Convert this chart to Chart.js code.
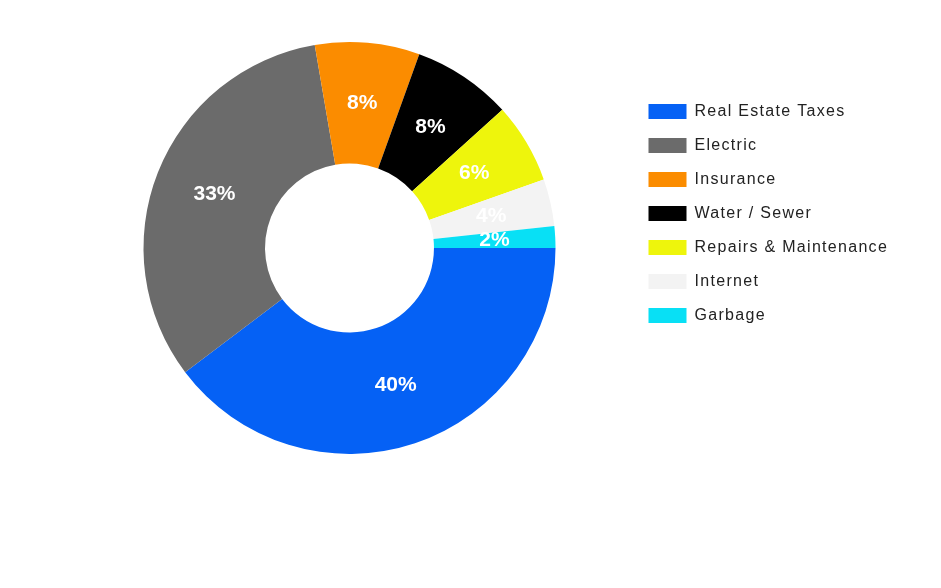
<!DOCTYPE html>
<html>
<head>
<meta charset="utf-8">
<script src="https://cdn.jsdelivr.net/npm/chart.js@4/dist/chart.umd.min.js"></script>
<style>
  html, body { margin: 0; padding: 0; background: #ffffff; }
  #wrap { width: 941px; height: 588px; }
</style>
</head>
<body>
<div id="wrap"><canvas id="c" width="941" height="588"></canvas></div>
<script>
const categories = ["Real Estate Taxes", "Electric", "Insurance", "Water / Sewer", "Repairs & Maintenance", "Internet", "Garbage"];
const shares = [39.7, 32.6, 8.2, 7.8, 6.3, 3.7, 1.7];
const sliceColors = ["#0561f5", "#6b6b6b", "#fb8c00", "#000000", "#eef50c", "#f3f3f3", "#08e0f5"];

const LEGEND_FONT = "16px 'Liberation Sans', Arial, sans-serif";
const LETTER_SPACING = '1.3px';

// measure legend text so the legend's left edge lands where the reference has it
const mctx = document.createElement('canvas').getContext('2d');
mctx.font = LEGEND_FONT;
mctx.letterSpacing = LETTER_SPACING;
const maxTextW = Math.max(...categories.map(t => mctx.measureText(t).width));
const legendW = 18 + 38 + 8 + maxTextW + 10;
const legendLeft = 630.5;
const padRight = Math.max(941 - legendLeft - legendW, 0);

const spacingPlugin = {
  id: 'legendSpacing',
  beforeUpdate(chart) { chart.ctx.letterSpacing = LETTER_SPACING; },
  beforeDraw(chart) { chart.ctx.letterSpacing = LETTER_SPACING; }
};

const pctLabels = {
  id: 'pctLabels',
  afterDatasetsDraw(chart) {
    const ctx = chart.ctx;
    const meta = chart.getDatasetMeta(0);
    const data = chart.data.datasets[0].data;
    const total = data.reduce((a, b) => a + b, 0);
    ctx.save();
    ctx.letterSpacing = '0px';
    ctx.font = "bold 21px 'Liberation Sans', Arial, sans-serif";
    ctx.fillStyle = '#ffffff';
    ctx.textAlign = 'center';
    ctx.textBaseline = 'middle';
    meta.data.forEach((arc, i) => {
      const p = arc.tooltipPosition();
      const pct = Math.round(data[i] / total * 100);
      ctx.fillText(pct + '%', p.x, p.y);
    });
    ctx.restore();
  }
};

new Chart(document.getElementById('c'), {
  type: 'doughnut',
  data: {
    labels: categories,
    datasets: [{
      data: shares,
      backgroundColor: sliceColors,
      borderWidth: 0,
      hoverOffset: 0
    }]
  },
  options: {
    responsive: false,
    animation: false,
    rotation: 90,
    cutout: '41%',
    layout: { padding: { left: 68.5, top: 42, bottom: 134, right: padRight } },
    plugins: {
      legend: {
        position: 'right',
        align: 'start',
        title: { display: true, text: '', font: { size: 12, lineHeight: 1.2 }, padding: { top: 29.1, bottom: 0 } },
        labels: {
          boxWidth: 38,
          boxHeight: 15,
          padding: 18,
          color: '#222222',
          font: { size: 16, family: "'Liberation Sans', Arial, sans-serif" }
        }
      },
      tooltip: { enabled: true }
    }
  },
  plugins: [spacingPlugin, pctLabels]
});
</script>
</body>
</html>
